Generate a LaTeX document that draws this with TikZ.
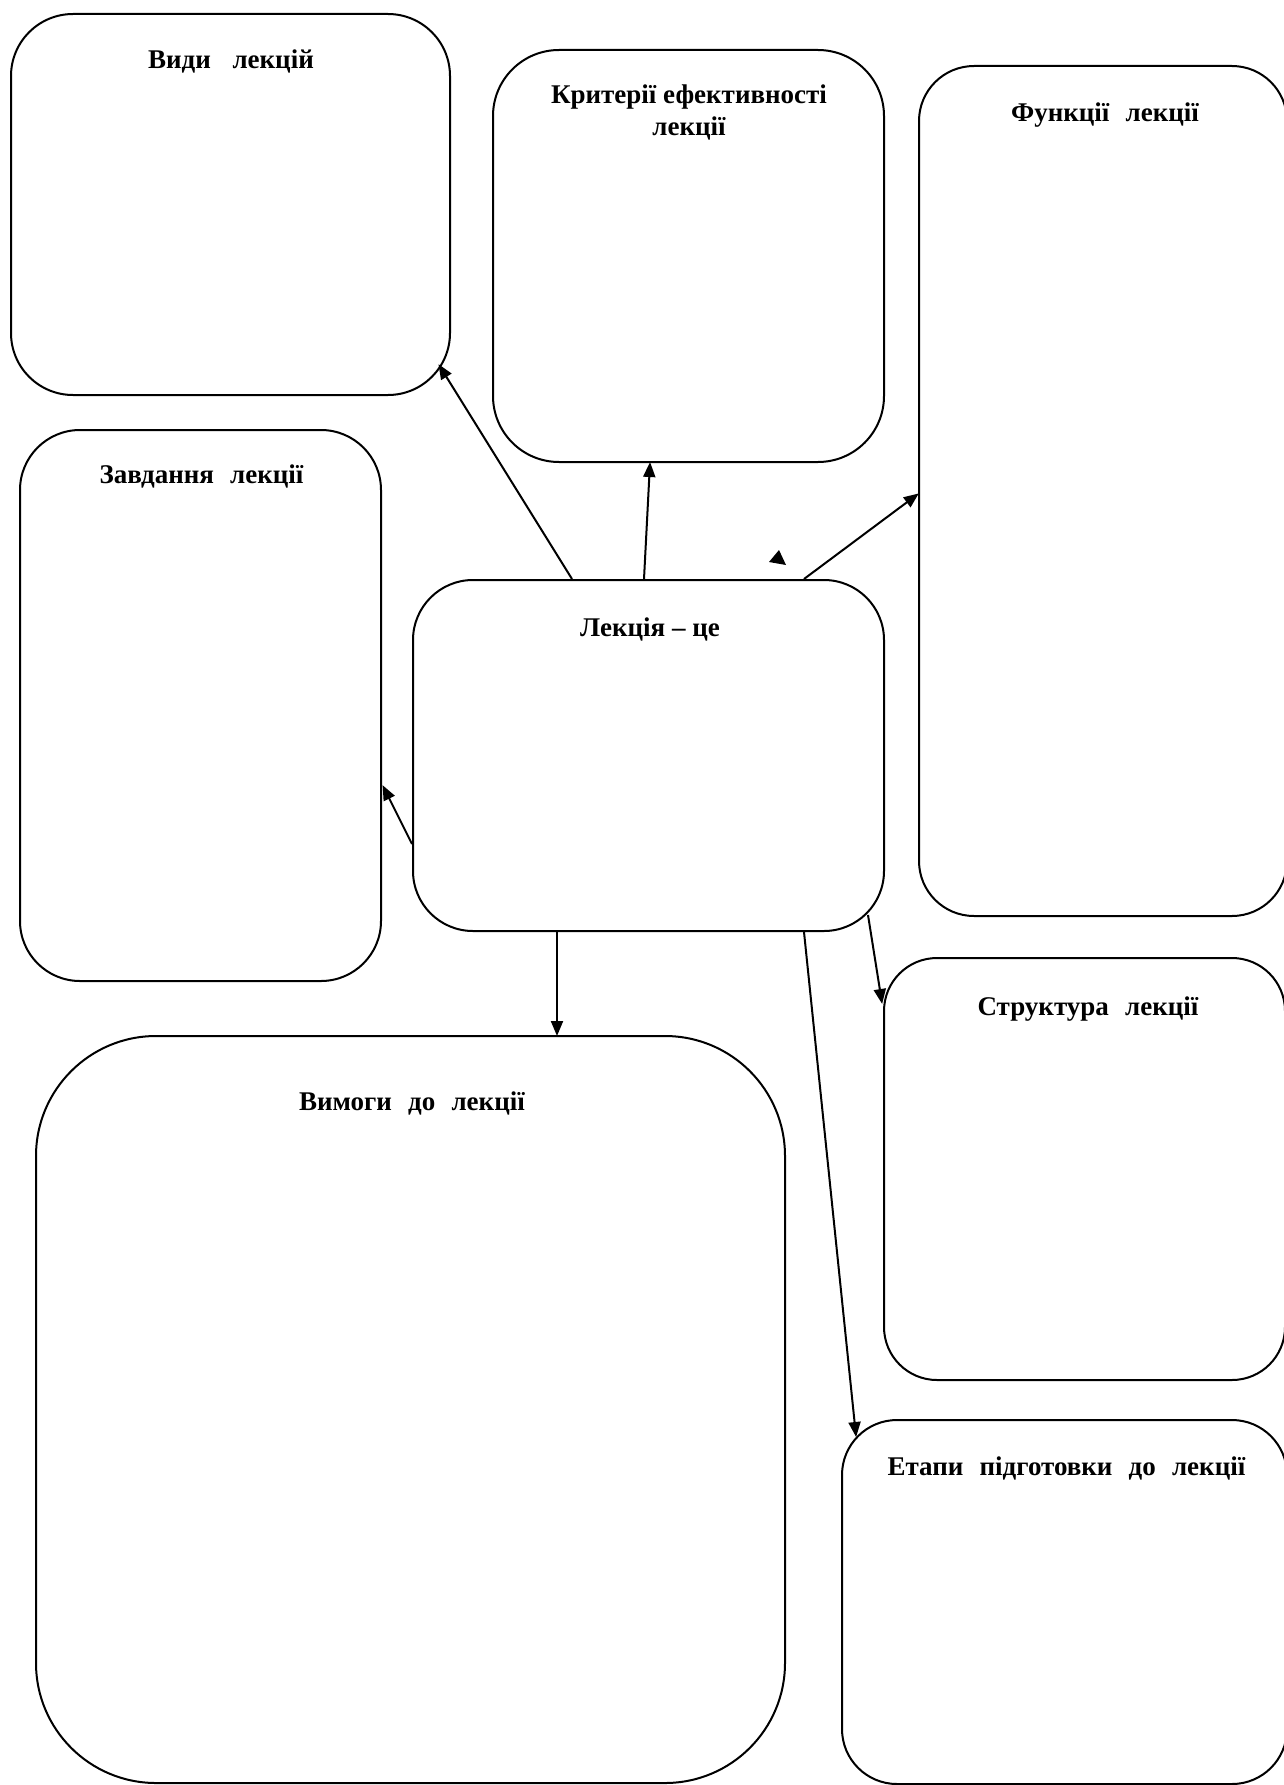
\documentclass[tikz,border=0pt]{standalone}
\usepackage{fontspec}
\setmainfont{Liberation Serif}
\usetikzlibrary{calc,arrows.meta}
\begin{document}
\begin{tikzpicture}[x=1pt,y=-1pt,
  box/.style={draw,line width=2pt,inner sep=0pt},
  ttl/.style={font=\fontsize{27}{31}\selectfont\bfseries,align=center,inner sep=0pt,anchor=base},
  arr/.style={line width=2pt,-{Triangle[length=15pt,width=12pt]},shorten >=-1pt}]
\useasboundingbox (0,0) rectangle (1284,1785);
\clip (0,0) rectangle (1284,1785);
% boxes
\node[box,rounded corners=62pt,minimum width=439pt,minimum height=381pt] (vydy) at (230.5,204.5) {};
\node[box,rounded corners=66pt,minimum width=391pt,minimum height=412pt] (krit) at (688.5,256) {};
\node[box,rounded corners=55pt,minimum width=368pt,minimum height=850pt] (funk) at (1103,491) {};
\node[box,rounded corners=60pt,minimum width=361pt,minimum height=551pt] (zav) at (200.5,705.5) {};
\node[box,rounded corners=60pt,minimum width=471pt,minimum height=351pt] (lek) at (648.5,755.5) {};
\node[box,rounded corners=53pt,minimum width=401pt,minimum height=422pt] (str) at (1084.5,1169) {};
\node[box,rounded corners=120pt,minimum width=749pt,minimum height=747pt] (vym) at (410.5,1409.5) {};
\node[box,rounded corners=55pt,minimum width=445pt,minimum height=364pt] (etap) at (1064.5,1602) {};
% titles
\node[ttl] (tvydy) at (231,69) {Види\hspace*{0.8em}лекцій};
\node[ttl] (tkrit) at (689,103) {Критерії ефективності};
\node[ttl] (tkrit2) at (689,135) {лекції};
\node[ttl] (tfunk) at (1105,121) {Функції\hspace*{0.6em}лекції};
\node[ttl] (tzav) at (201.5,483) {Завдання\hspace*{0.6em}лекції};
\node[ttl] (tlek) at (650,636) {Лекція – це};
\node[ttl] (tstr) at (1088,1015) {Структура\hspace*{0.6em}лекції};
\node[ttl] (tvym) at (412,1110) {Вимоги\hspace*{0.6em}до\hspace*{0.6em}лекції};
\node[ttl] (tetap) at (1066.5,1475) {Етапи\hspace*{0.6em}підготовки\hspace*{0.6em}до\hspace*{0.6em}лекції};
% connectors
\draw[arr] ($(lek.north west)+(160,0)$) -- ($(vydy.south east)+(-12,-31)$);
\draw[arr] ($(lek.north west)+(232,0)$) -- ($(krit.south west)+(158,0)$);
\draw[arr] ($(lek.north west)+(392,0)$) -- ($(funk.north west)+(0,429)$);
\draw[arr] ($(lek.north west)+(0,265)$) -- ($(zav.north east)+(1,357)$);
\draw[arr] ($(lek.south west)+(145,0)$) -- ($(vym.north west)+(522,0)$);
\draw[arr] ($(lek.south east)+(-17,-17)$) -- ($(str.north west)+(-1,46)$);
\draw[arr] ($(lek.south west)+(392,0)$) -- ($(etap.north west)+(15,17)$);
% stray arrowhead
\fill (779,550) -- (769,562) -- (786,565) -- cycle;
\end{tikzpicture}
\end{document}
